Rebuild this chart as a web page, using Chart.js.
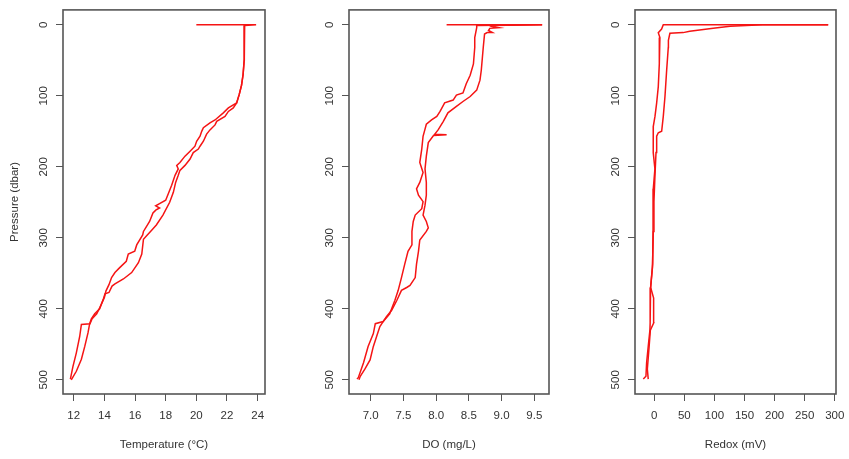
<!DOCTYPE html>
<html>
<head>
<meta charset="utf-8">
<script src="https://cdn.jsdelivr.net/npm/chart.js@4.4.1/dist/chart.umd.min.js"></script>
<style>
  html, body { margin: 0; padding: 0; background: #fff; overflow: hidden; }
  #wrap { position: relative; width: 849px; height: 459px; }
  canvas { position: absolute; top: 0; }
</style>
</head>
<body>
<div id="wrap">
  <canvas id="tempChart" width="283" height="459" style="left:0px"></canvas>
  <canvas id="doChart" width="283" height="459" style="left:286px"></canvas>
  <canvas id="redoxChart" width="277" height="459" style="left:572px"></canvas>
</div>
<script>
// temperature profile (downcast / upcast)
const tempDownP = [0, 0, 1, 20, 50, 70, 85, 98, 110, 117, 124, 134, 138, 145, 150, 157, 164, 171, 178, 185, 194, 198, 203, 212, 226, 238, 247, 252, 255, 258, 261, 265, 277, 291, 296, 310, 319, 323, 333, 342, 349, 356, 366, 375, 384, 398, 407, 414, 421, 422, 439, 462, 481, 499];
const tempDown = [20.0, 23.9, 23.15, 23.13, 23.12, 23.05, 22.95, 22.8, 22.63, 22.09, 21.76, 21.22, 20.89, 20.46, 20.35, 20.24, 20.02, 19.91, 19.59, 19.26, 18.93, 18.72, 18.82, 18.61, 18.39, 18.17, 18.0, 17.6, 17.35, 17.6, 17.35, 17.17, 16.95, 16.55, 16.5, 16.11, 15.98, 15.56, 15.43, 15.0, 14.69, 14.47, 14.3, 14.1, 14.0, 13.71, 13.5, 13.2, 13.06, 12.5, 12.39, 12.17, 11.95, 11.78];
const tempUpP = [500, 488, 471, 453, 434, 421, 414, 407, 400, 385, 379, 377, 368, 365, 358, 349, 335, 323, 302, 296, 289, 282, 268, 250, 236, 222, 212, 205, 198, 189, 180, 175, 171, 164, 154, 148, 141, 136, 129, 122, 117, 110, 98, 85, 70, 50, 20, 1];
const tempUp = [11.84, 12.17, 12.5, 12.72, 12.93, 13.04, 13.15, 13.37, 13.69, 13.95, 14.04, 14.3, 14.5, 14.69, 15.24, 15.78, 16.22, 16.44, 16.55, 16.8, 17.1, 17.39, 17.82, 18.26, 18.5, 18.65, 18.82, 18.93, 19.26, 19.59, 19.8, 20.13, 20.24, 20.46, 20.67, 20.89, 21.22, 21.33, 21.87, 22.09, 22.41, 22.63, 22.8, 22.95, 23.05, 23.12, 23.13, 23.13];

// dissolved oxygen profile
const doDownP = [0, 0, 1, 4, 18, 32, 55, 71, 83, 96, 99, 106, 110, 122, 129, 134, 140, 147, 157, 175, 194, 208, 222, 231, 240, 249, 259, 268, 277, 291, 310, 319, 337, 356, 374, 388, 407, 418, 421, 435, 453, 476, 497, 499];
const doDown = [8.16, 9.62, 8.62, 8.62, 8.59, 8.59, 8.57, 8.52, 8.46, 8.41, 8.31, 8.26, 8.13, 8.06, 8.01, 7.93, 7.85, 7.83, 7.8, 7.78, 7.75, 7.8, 7.75, 7.7, 7.73, 7.8, 7.78, 7.68, 7.65, 7.63, 7.63, 7.57, 7.52, 7.47, 7.42, 7.37, 7.29, 7.19, 7.07, 7.04, 6.96, 6.89, 6.81, 6.79];
const doUpP = [500, 495, 485, 472, 453, 439, 425, 411, 402, 388, 374, 370, 367, 356, 337, 319, 303, 291, 286, 277, 268, 254, 240, 222, 203, 185, 166, 156, 155, 154, 148, 136, 124, 115, 108, 101, 92, 78, 64, 32, 13, 11, 11, 8, 5, 4, 2, 1, 0];
const doUp = [6.82, 6.84, 6.91, 6.99, 7.04, 7.09, 7.14, 7.24, 7.32, 7.4, 7.47, 7.55, 7.6, 7.68, 7.7, 7.73, 7.75, 7.85, 7.88, 7.85, 7.8, 7.83, 7.85, 7.85, 7.83, 7.85, 7.88, 7.96, 8.16, 7.98, 8.03, 8.11, 8.18, 8.31, 8.41, 8.52, 8.62, 8.67, 8.69, 8.72, 8.74, 8.78, 8.86, 8.8, 8.82, 8.96, 8.84, 8.82, 9.62];

// redox profile
const redoxDownP = [0, 0, 6, 11, 18, 55, 87, 110, 129, 143, 160, 180, 203, 231, 291, 337, 370, 384, 407, 420, 430, 453, 476, 495, 499];
const redoxDown = [289, 15, 12.2, 6.7, 9.4, 8.4, 6.7, 4, 1.2, -1.6, -1.8, -1.6, 1.1, -1.6, -2.0, -2.7, -6.1, -7.0, -7.0, -6.5, -7.2, -10, -12.7, -13.8, -18.2];
const redoxUpP = [499, 485, 453, 430, 420, 405, 385, 370, 342, 291, 249, 212, 180, 157, 152, 150, 129, 101, 64, 32, 22, 12, 11, 9, 5, 2, 0, 0];
const redoxUp = [-10, -11.5, -8.5, -6.5, -1.0, -0.5, -1.6, -6.0, -3.0, -1.6, -0.5, 1.2, 2.9, 4, 6.7, 12.3, 15, 17.8, 20.6, 23.3, 23.5, 26, 48, 59, 98, 126, 180, 289];

// axis ticks
const pressureTicks = [0, 100, 200, 300, 400, 500];
const tempTicks = [12, 14, 16, 18, 20, 22, 24];
const doTicks = [7.0, 7.5, 8.0, 8.5, 9.0, 9.5];
const redoxTicks = [0, 50, 100, 150, 200, 250, 300];

const font = { family: "'Liberation Sans', Arial, sans-serif", size: 11.5 };
const textColor = '#333';
const axisColor = '#555';

const toPoints = (pressure, values) => pressure.map((p, i) => ({ x: values[i], y: p }));

// R-style box around the plot region
const boxPlugin = {
    id: 'box',
    afterDraw: (chart) => {
        const { ctx, chartArea } = chart;
        ctx.save();
        ctx.strokeStyle = axisColor;
        ctx.lineWidth = 1.6;
        ctx.strokeRect(chartArea.left, chartArea.top, chartArea.width, chartArea.height);
        ctx.restore();
    }
};

const createProfileChart = (canvasId, down, up, xCfg, showYTitle, padRight) => {
    const ctx = document.getElementById(canvasId).getContext('2d');
    const lineStyle = {
        showLine: true,
        borderColor: 'rgb(245,20,20)',
        borderWidth: 1.5,
        pointRadius: 0,
        tension: 0,
        fill: false
    };
    return new Chart(ctx, {
        type: 'scatter',
        data: {
            datasets: [
                Object.assign({ label: 'down', data: down }, lineStyle),
                Object.assign({ label: 'up', data: up }, lineStyle)
            ]
        },
        options: {
            responsive: false,
            animation: false,
            devicePixelRatio: 1,
            layout: { padding: { top: 5, right: padRight, left: 0, bottom: 0 } },
            plugins: {
                legend: { display: false },
                tooltip: { enabled: false }
            },
            scales: {
                x: {
                    type: 'linear',
                    min: xCfg.min,
                    max: xCfg.max,
                    afterBuildTicks: s => { s.ticks = xCfg.ticks.map(v => ({ value: v })); },
                    afterFit: s => {
                        s.height = 65;
                        // keep the plot box where the layout padding puts it
                        s.paddingLeft = 0;
                        s.paddingRight = 0;
                    },
                    grid: { drawOnChartArea: false, drawTicks: true, tickLength: 7, color: axisColor },
                    border: { display: false },
                    ticks: {
                        padding: 8,
                        autoSkip: false,
                        maxRotation: 0,
                        color: textColor,
                        font: font,
                        callback: xCfg.format
                    },
                    title: {
                        display: true,
                        text: xCfg.title,
                        color: textColor,
                        font: font,
                        padding: { top: 0, bottom: 7 }
                    }
                },
                y: {
                    type: 'linear',
                    reverse: true,
                    min: -21,
                    max: 520,
                    afterBuildTicks: s => { s.ticks = pressureTicks.map(v => ({ value: v })); },
                    afterFit: s => { s.width = 63; },
                    grid: { drawOnChartArea: false, drawTicks: true, tickLength: 7, color: axisColor },
                    border: { display: false },
                    ticks: {
                        minRotation: 90,
                        maxRotation: 90,
                        crossAlign: 'center',
                        padding: 3,
                        autoSkip: false,
                        color: textColor,
                        font: font,
                        callback: v => String(v)
                    },
                    title: {
                        display: showYTitle,
                        text: 'Pressure (dbar)',
                        color: textColor,
                        font: font,
                        padding: { top: 8, bottom: 0 }
                    }
                }
            }
        },
        plugins: [boxPlugin]
    });
};

createProfileChart('tempChart',
    toPoints(tempDownP, tempDown), toPoints(tempUpP, tempUp),
    { min: 11.3, max: 24.48, ticks: tempTicks, title: 'Temperature (°C)', format: v => String(v) },
    true, 18);

createProfileChart('doChart',
    toPoints(doDownP, doDown), toPoints(doUpP, doUp),
    { min: 6.668, max: 9.725, ticks: doTicks, title: 'DO (mg/L)', format: v => v.toFixed(1) },
    false, 20);

createProfileChart('redoxChart',
    toPoints(redoxDownP, redoxDown), toPoints(redoxUpP, redoxUp),
    { min: -32, max: 302, ticks: redoxTicks, title: 'Redox (mV)', format: v => String(v) },
    false, 13);
</script>
</body>
</html>
